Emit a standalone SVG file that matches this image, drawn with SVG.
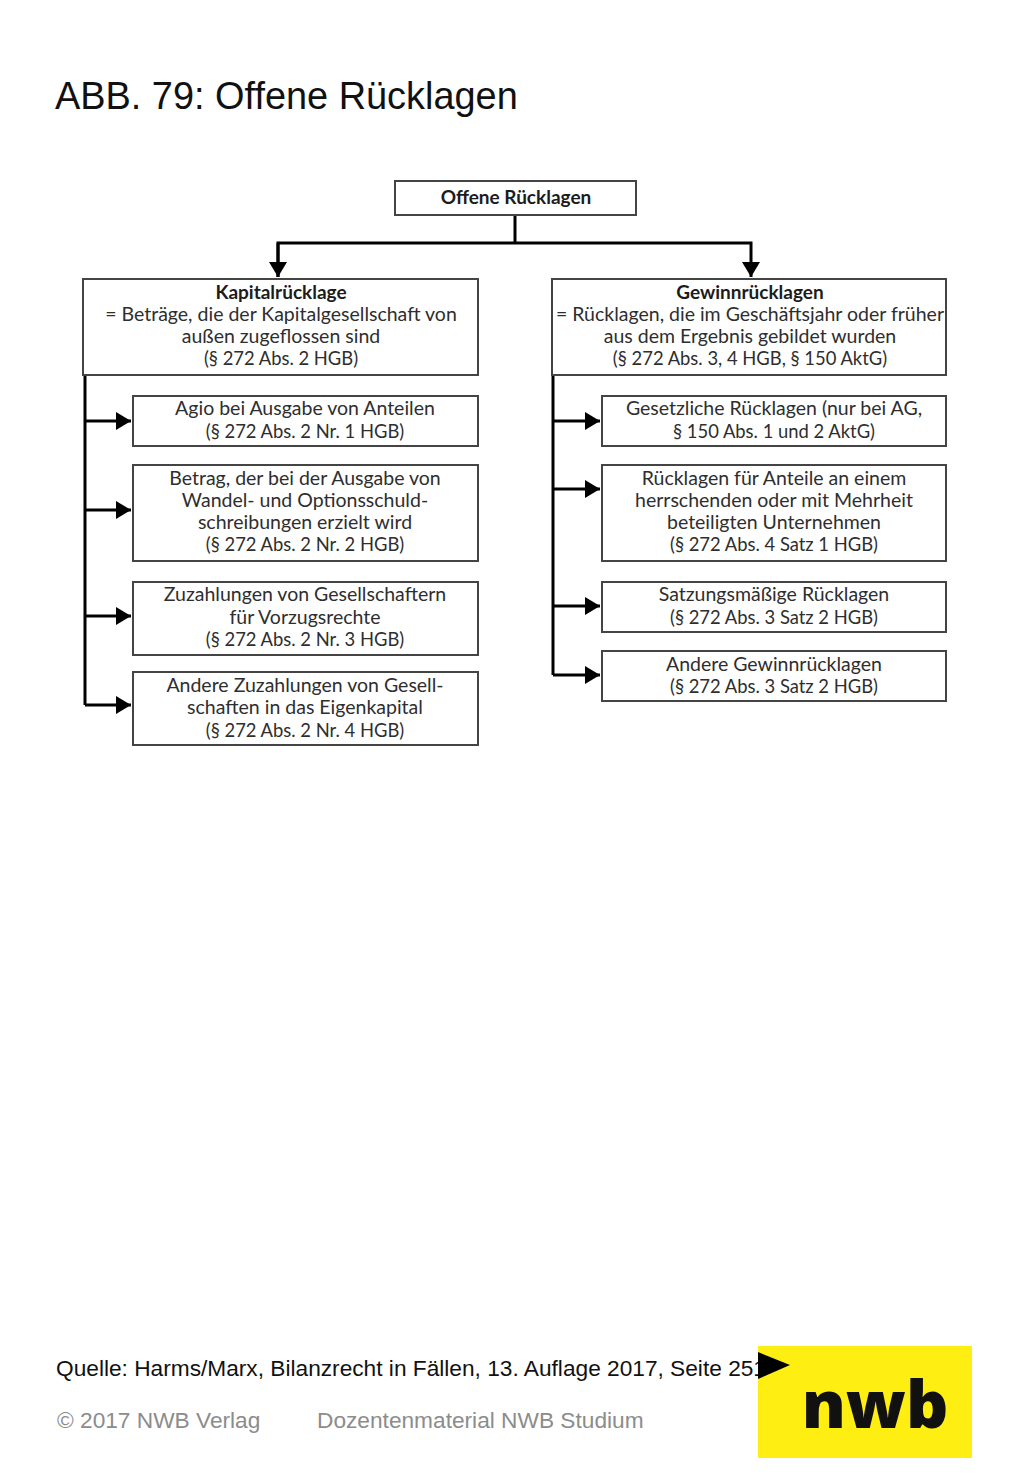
<svg xmlns="http://www.w3.org/2000/svg" width="1024" height="1479" viewBox="0 0 1024 1479">
<style>
.b{fill:#fff;stroke:#444;stroke-width:2}
.t{font-family:"Lato","Open Sans",sans-serif;font-size:19.5px;fill:#2e2e2e;text-anchor:middle}
.h{font-weight:700;fill:#1c1c1c;font-size:19px}
.s{font-size:18.4px}
.c{fill:none;stroke:#000;stroke-width:3}
.a{font-family:"Liberation Sans",Arial,sans-serif}
</style>
<defs><marker id="m" markerUnits="userSpaceOnUse" markerWidth="16" markerHeight="18" refX="15" refY="9" orient="auto"><path d="M0 0L15 9L0 18Z" fill="#000"/></marker></defs>
<rect width="1024" height="1479" fill="#fff"/>
<text class="a" x="55" y="108.500" font-size="37.9" fill="#111">ABB. 79: Offene Rücklagen</text>
<g id="connectors">
<path class="c" d="M515 215V243"/>
<path class="c" d="M278 277V243H751V277" marker-end="url(#m)"/>
<path class="c" d="M278 243V277" marker-end="url(#m)"/>
<path class="c" d="M85 375V705"/>
<path class="c" d="M85 421H131" marker-end="url(#m)"/>
<path class="c" d="M85 510H131" marker-end="url(#m)"/>
<path class="c" d="M85 616H131" marker-end="url(#m)"/>
<path class="c" d="M85 705H131" marker-end="url(#m)"/>
<path class="c" d="M553 375V675"/>
<path class="c" d="M553 421H600" marker-end="url(#m)"/>
<path class="c" d="M553 489H600" marker-end="url(#m)"/>
<path class="c" d="M553 606H600" marker-end="url(#m)"/>
<path class="c" d="M553 675H600" marker-end="url(#m)"/>
</g>
<g id="n0"><rect class="b" x="395" y="181" width="241" height="34"/><text class="t h" x="516" y="204">Offene Rücklagen</text></g>
<g id="n1"><rect class="b" x="83" y="279" width="395" height="96"/><text class="t"><tspan class="h" x="281" y="299">Kapitalrücklage</tspan><tspan x="281" y="321">= Beträge, die der Kapitalgesellschaft von</tspan><tspan x="281" y="343">außen zugeflossen sind</tspan><tspan class="s" x="281" y="365">(§ 272 Abs. 2 HGB)</tspan></text></g>
<g id="n2"><rect class="b" x="133" y="396" width="345" height="50"/><text class="t"><tspan x="305" y="415">Agio bei Ausgabe von Anteilen</tspan><tspan class="s" x="305" y="438">(§ 272 Abs. 2 Nr. 1 HGB)</tspan></text></g>
<g id="n3"><rect class="b" x="133" y="465" width="345" height="96"/><text class="t"><tspan x="305" y="485">Betrag, der bei der Ausgabe von</tspan><tspan x="305" y="507">Wandel- und Optionsschuld-</tspan><tspan x="305" y="529">schreibungen erzielt wird</tspan><tspan class="s" x="305" y="551">(§ 272 Abs. 2 Nr. 2 HGB)</tspan></text></g>
<g id="n4"><rect class="b" x="133" y="582" width="345" height="73"/><text class="t"><tspan x="305" y="601">Zuzahlungen von Gesellschaftern</tspan><tspan x="305" y="624">für Vorzugsrechte</tspan><tspan class="s" x="305" y="646">(§ 272 Abs. 2 Nr. 3 HGB)</tspan></text></g>
<g id="n5"><rect class="b" x="133" y="672" width="345" height="73"/><text class="t"><tspan x="305" y="692">Andere Zuzahlungen von Gesell-</tspan><tspan x="305" y="714">schaften in das Eigenkapital</tspan><tspan class="s" x="305" y="737">(§ 272 Abs. 2 Nr. 4 HGB)</tspan></text></g>
<g id="n6"><rect class="b" x="552" y="279" width="394" height="96"/><text class="t"><tspan class="h" x="750" y="299">Gewinnrücklagen</tspan><tspan x="750" y="321">= Rücklagen, die im Geschäftsjahr oder früher</tspan><tspan x="750" y="343">aus dem Ergebnis gebildet wurden</tspan><tspan class="s" x="750" y="365">(§ 272 Abs. 3, 4 HGB, § 150 AktG)</tspan></text></g>
<g id="n7"><rect class="b" x="602" y="396" width="344" height="50"/><text class="t"><tspan x="774" y="415">Gesetzliche Rücklagen (nur bei AG,</tspan><tspan class="s" x="774" y="438">§ 150 Abs. 1 und 2 AktG)</tspan></text></g>
<g id="n8"><rect class="b" x="602" y="465" width="344" height="96"/><text class="t"><tspan x="774" y="485">Rücklagen für Anteile an einem</tspan><tspan x="774" y="507">herrschenden oder mit Mehrheit</tspan><tspan x="774" y="529">beteiligten Unternehmen</tspan><tspan class="s" x="774" y="551">(§ 272 Abs. 4 Satz 1 HGB)</tspan></text></g>
<g id="n9"><rect class="b" x="602" y="582" width="344" height="50"/><text class="t"><tspan x="774" y="601">Satzungsmäßige Rücklagen</tspan><tspan class="s" x="774" y="624">(§ 272 Abs. 3 Satz 2 HGB)</tspan></text></g>
<g id="n10"><rect class="b" x="602" y="651" width="344" height="50"/><text class="t"><tspan x="774" y="671">Andere Gewinnrücklagen</tspan><tspan class="s" x="774" y="693">(§ 272 Abs. 3 Satz 2 HGB)</tspan></text></g>
<text class="a" x="56" y="1375.500" font-size="22.7" fill="#111">Quelle: Harms/Marx, Bilanzrecht in Fällen, 13. Auflage 2017, Seite 251</text>
<text class="a" x="57" y="1427.500" font-size="22.7" fill="#8c8c8c">© 2017 NWB Verlag</text>
<text class="a" x="317" y="1427.500" font-size="22.7" fill="#8c8c8c">Dozentenmaterial NWB Studium</text>
<g id="logo"><rect x="758" y="1346" width="214" height="112" fill="#ffee12"/><path d="M758 1352L790 1365L758 1379Z" fill="#000"/><text x="875" y="1428" font-family="'Open Sans',sans-serif" font-weight="800" font-size="66" text-anchor="middle" fill="#111">nwb</text></g>
</svg>
